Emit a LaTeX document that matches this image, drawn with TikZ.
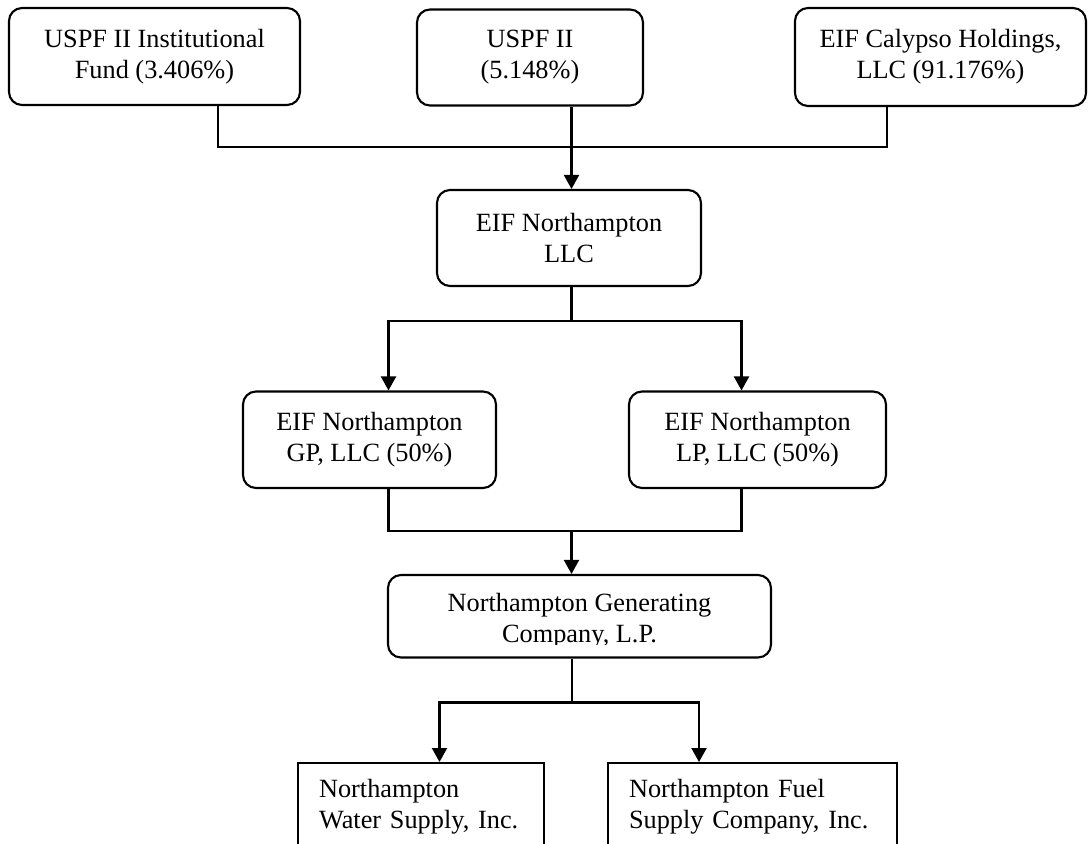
\documentclass[tikz,border=0pt]{standalone}
\usepackage{fontspec}
\setmainfont{Liberation Serif}
\usetikzlibrary{arrows.meta}
\newcommand\chartfont{\fontsize{26.3}{31}\selectfont}
\begin{document}
\begin{tikzpicture}[x=1pt,y=-1pt,
  rbox/.style={draw, line width=2.1pt, rounded corners=13pt, align=center, inner sep=0pt, font=\chartfont},
  sbox/.style={draw, line width=2.1pt, align=left, inner xsep=21pt, inner ysep=0pt, font=\chartfont, anchor=north west},
  link/.style={line width=2.1pt},
  arr/.style={line width=2.1pt, -{Triangle[width=15pt,length=14pt]}},
  arrtwo/.style={line width=2.1pt, {Triangle[width=15pt,length=14pt]}-{Triangle[width=15pt,length=14pt]}}]
\useasboundingbox (0,0) rectangle (1088,844);
\clip (0,0) rectangle (1088,844);
% top row
\node[rbox, minimum width=291pt, minimum height=97pt] (A) at (154.5,56.5) {USPF II Institutional\\Fund (3.406\%)};
\node[rbox, minimum width=226pt, minimum height=96pt] (B) at (530,57.5) {USPF II\\(5.148\%)};
\node[rbox, minimum width=291pt, minimum height=98pt] (C) at (940.5,57) {EIF Calypso Holdings,\\LLC (91.176\%)};
% second row
\node[rbox, minimum width=264pt, minimum height=96pt] (LLC) at (569,238) {EIF Northampton\\LLC};
% third row
\node[rbox, minimum width=253pt, minimum height=96.5pt] (GP) at (369.5,439.75) {EIF Northampton\\GP, LLC (50\%)};
\node[rbox, minimum width=257pt, minimum height=96.5pt] (LP) at (757.5,439.75) {EIF Northampton\\LP, LLC (50\%)};
% fourth row
\node[rbox, minimum width=383pt, minimum height=82.5pt] (gen) at (579.5,616.25) {};
\begin{scope}
  \clip (gen.north west) rectangle (771,644);
  \node[font=\chartfont, align=center, inner sep=0pt] (gentext) at (579.5,621) {Northampton Generating\\Company, L.P.};
\end{scope}
% bottom row
\node[sbox, minimum width=246pt, minimum height=88pt, text width=204pt] (water) at (297,762) {Northampton\\Water Supply, Inc.};
\node[sbox, minimum width=289pt, minimum height=88pt, text width=247pt] (fuel) at (607,762) {Northampton Fuel\\Supply Company, Inc.};
% junction points
\coordinate (jA) at (218,146.7);
\coordinate (jC) at (887,146.7);
\coordinate (j2) at (571.5,321);
\coordinate (gpT) at (388.5,321);
\coordinate (lpT) at (741.5,321);
\coordinate (gpB) at (388.5,530.7);
\coordinate (lpB) at (741.5,530.7);
\coordinate (j3) at (571.5,530.7);
\coordinate (j4) at (572,702.5);
\coordinate (wT) at (439.5,702.5);
\coordinate (fT) at (699,702.5);
% connectors
\draw[link] (jA |- A.south) -- (jA) -- (jC) -- (jC |- C.south);
\draw[arr] (j2 |- B.south) -- (j2 |- LLC.north);
\draw[link] (j2 |- LLC.south) -- (j2);
\draw[arrtwo] (gpT |- GP.north) -- (gpT) -- (lpT) -- (lpT |- LP.north);
\draw[link] (gpT |- GP.south) -- (gpB) -- (lpB) -- (lpT |- LP.south);
\draw[arr] (j3) -- (j3 |- gen.north);
\draw[link] (j4 |- gen.south) -- (j4);
\draw[arrtwo] (wT |- water.north) -- (wT) -- (fT) -- (fT |- fuel.north);
\end{tikzpicture}
\end{document}
